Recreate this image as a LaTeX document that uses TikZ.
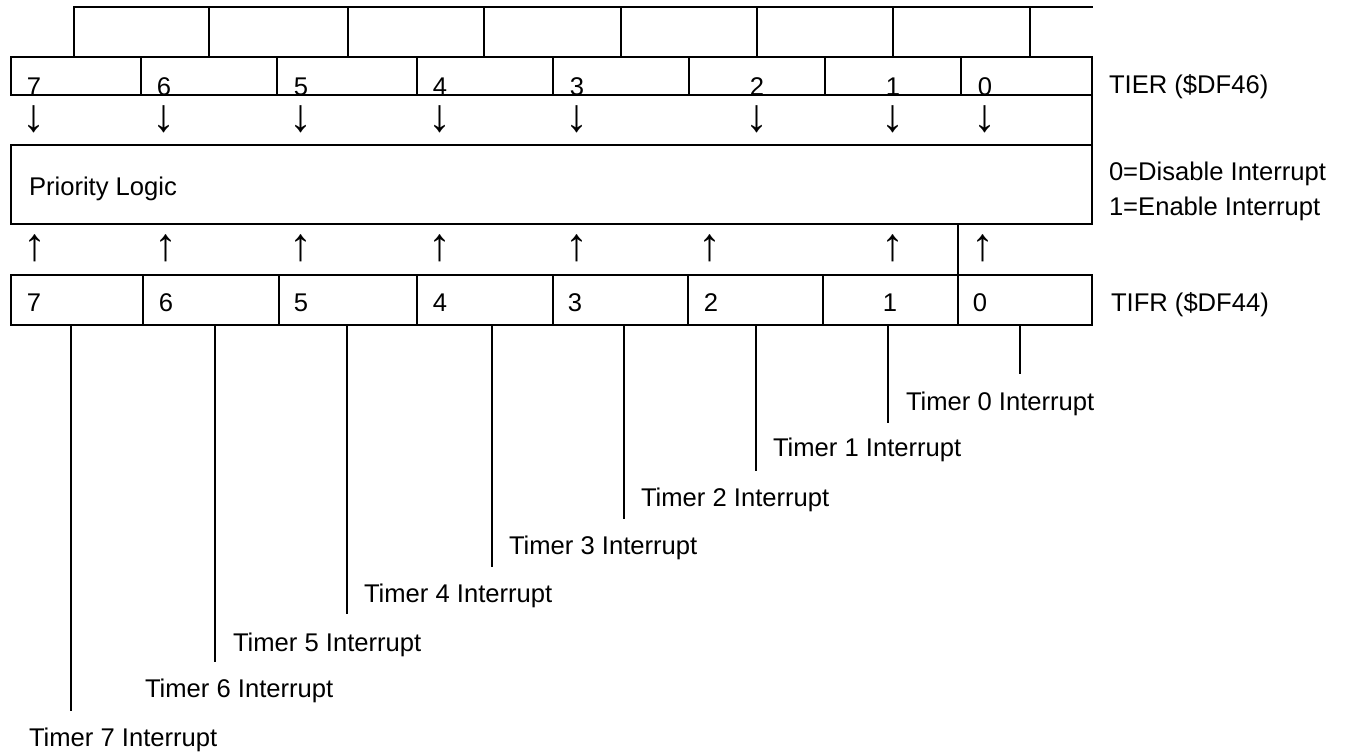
\documentclass[tikz,border=0pt]{standalone}
\usepackage{fontspec}
\setmainfont{Liberation Sans}
\newcommand\diagfont{\fontsize{12.8}{15}\selectfont}
\newcommand\arrowfont{\fontsize{23}{25}\selectfont}
\begin{document}
\begin{tikzpicture}[x=0.5pt,y=-0.5pt,line width=1pt,
  lbl/.style={inner sep=0pt,anchor=base west,font=\diagfont},
  bit/.style={inner sep=0pt,anchor=base,font=\diagfont},
  arr/.style={inner sep=0pt,anchor=base,font=\arrowfont}]
\useasboundingbox (0,0) rectangle (1349,753);

% ---------- top cells ----------
\draw (74,57) -- (74,7) -- (1093,7);
\foreach \x in {209,348,484,621,757,893,1030} \draw (\x,7) -- (\x,57);

% ---------- TIER digits (drawn before the frame so the line cuts them) ----------
\node[bit] (tier7) at (34,95.5) {7};
\node[bit] (tier6) at (164,95.5) {6};
\node[bit] (tier5) at (301,95.5) {5};
\node[bit] (tier4) at (440,95.5) {4};
\node[bit] (tier3) at (577,95.5) {3};
\node[bit] (tier2) at (757,95.5) {2};
\node[bit] (tier1) at (893,95.5) {1};
\node[bit] (tier0) at (985,95.5) {0};

% ---------- TIER register ----------
\draw (11,57) rectangle (1092,95);
\foreach \x in {141,277,417,553,689,825,961} \draw (\x,57) -- (\x,95);
\node[lbl] (tierlbl) at (1108,94) {TIER (\$DF46)};

% ---------- down arrows ----------
\draw (1092,95) -- (1092,145);
\foreach \x/\n in {34/7,164/6,301/5,440/4,577/3,757/2,893/1,985/0}
  \node[arr] (down\n) at (\x,132) {\smash{↓}};

% ---------- priority logic ----------
\draw (11,145) rectangle (1092,224);
\node[lbl] (prio) at (28,196) {Priority Logic};
\node[lbl] (dis) at (1108,181) {0=Disable Interrupt};
\node[lbl] (ena) at (1108,216) {1=Enable Interrupt};

% ---------- up arrows ----------
\draw (958,224) -- (958,275);
\foreach \x/\n in {35/7,166/6,301/5,440/4,577/3,710/2,893/1,983/0}
  \node[arr] (up\n) at (\x,261) {\smash{↑}};

% ---------- TIFR register ----------
\draw (11,275) rectangle (1092,325);
\foreach \x in {143,279,417,553,688,823,958} \draw (\x,275) -- (\x,325);
\node[bit] (tifr7) at (34,312) {7};
\node[bit] (tifr6) at (166,312) {6};
\node[bit] (tifr5) at (301,312) {5};
\node[bit] (tifr4) at (440,312) {4};
\node[bit] (tifr3) at (575,312) {3};
\node[bit] (tifr2) at (711,312) {2};
\node[bit] (tifr1) at (890,312) {1};
\node[bit] (tifr0) at (980,312) {0};
\node[lbl] (tifrlbl) at (1110,312) {TIFR (\$DF44)};

% ---------- interrupt sources ----------
\foreach \n/\x/\e/\lx/\ly in {7/71/711/28/737, 6/215/662/144/688, 5/347/614/232/642,
    4/492/567/363/593, 3/624/519/508/545, 2/756/471/640/497, 1/888/423/772/448, 0/1020/374/905/402}{
  \coordinate (s\n) at (\x,325);
  \coordinate (e\n) at (\x,\e);
  \draw (s\n) -- (e\n);
  \node[lbl] (timer\n) at (\lx,\ly+9) {Timer \n\ Interrupt};
}
\end{tikzpicture}
\end{document}
